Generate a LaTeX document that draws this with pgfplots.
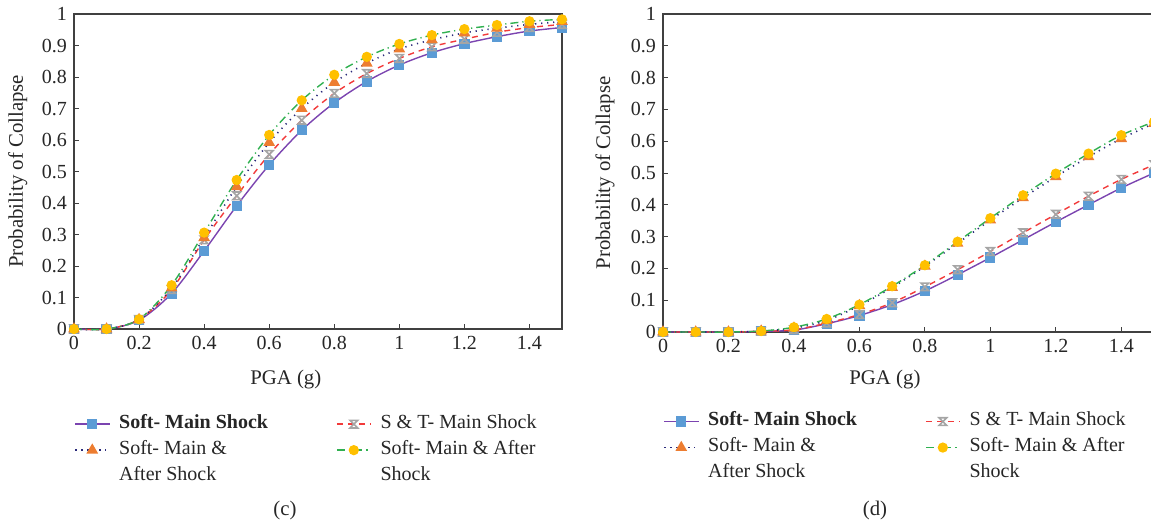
\documentclass[border=0pt]{standalone}
\usepackage{fontspec}
\setmainfont{Liberation Serif}
\usepackage{pgfplots}
\usepackage{pgfplotstable}
\pgfplotsset{compat=1.18}

\definecolor{cPur}{HTML}{7B44B0}
\definecolor{cBlu}{HTML}{5B9BD5}
\definecolor{cRed}{HTML}{F23A3A}
\definecolor{cGry}{HTML}{A5A5A5}
\definecolor{cNav}{HTML}{2A2A7A}
\definecolor{cOra}{HTML}{ED7D31}
\definecolor{cGrn}{HTML}{30B050}
\definecolor{cYel}{HTML}{FFC000}
\definecolor{cAx}{HTML}{404040}

% hourglass-like cross used for the S & T series
\pgfdeclareplotmark{hglass}{%
  \pgfpathmoveto{\pgfqpoint{-\pgfplotmarksize}{-\pgfplotmarksize}}%
  \pgfpathlineto{\pgfqpoint{\pgfplotmarksize}{\pgfplotmarksize}}%
  \pgfpathlineto{\pgfqpoint{-\pgfplotmarksize}{\pgfplotmarksize}}%
  \pgfpathlineto{\pgfqpoint{\pgfplotmarksize}{-\pgfplotmarksize}}%
  \pgfpathclose
  \pgfusepathqstroke}

% panel (c)
\pgfplotstableread{
x    sm     st     sma    smb
0    0      0      0      0
0.1  0      0      0      0
0.2  0.028  0.030  0.030  0.031
0.3  0.113  0.125  0.130  0.139
0.4  0.248  0.283  0.290  0.306
0.5  0.391  0.423  0.452  0.473
0.6  0.521  0.554  0.592  0.616
0.7  0.631  0.663  0.700  0.726
0.8  0.718  0.748  0.783  0.807
0.9  0.786  0.811  0.844  0.864
1.0  0.838  0.859  0.889  0.905
1.1  0.877  0.896  0.918  0.933
1.2  0.906  0.920  0.940  0.952
1.3  0.928  0.942  0.955  0.965
1.4  0.946  0.957  0.967  0.977
1.5  0.957  0.967  0.976  0.983
}\datac

% panel (d)
\pgfplotstableread{
x    sm     st     sma    smb
0    0      0      0      0
0.1  0      0      0      0
0.2  0      0      0      0
0.3  0.002  0.002  0.003  0.003
0.4  0.006  0.007  0.012  0.015
0.5  0.026  0.028  0.036  0.041
0.6  0.052  0.055  0.083  0.086
0.7  0.086  0.092  0.140  0.144
0.8  0.129  0.142  0.207  0.210
0.9  0.180  0.196  0.279  0.284
1.0  0.234  0.253  0.352  0.358
1.1  0.290  0.312  0.422  0.430
1.2  0.346  0.370  0.488  0.498
1.3  0.400  0.427  0.551  0.561
1.4  0.453  0.480  0.608  0.619
1.5  0.500  0.526  0.656  0.661
}\datad

\pgfplotsset{
  fragility/.style={
    scale only axis, clip=false,
    xmin=0, xmax=1.5, ymin=0, ymax=1,
    xtick={0,0.2,0.4,0.6,0.8,1,1.2,1.4},
    ytick={0,0.1,0.2,0.3,0.4,0.5,0.6,0.7,0.8,0.9,1},
    tick align=inside, xtick pos=bottom, ytick pos=left,
    major tick length=2.5pt,
    axis line style={draw=cAx, line width=0.6pt},
    tick style={draw=cAx, line width=0.5pt},
    /pgf/number format/assume math mode=true,
    tick label style={font=\fontsize{10}{12}\selectfont, text=black!85},
    label style={font=\fontsize{10.4}{12}\selectfont, text=black!85},
    ylabel={Probability of Collapse},
    xlabel={PGA (g)},
    legend columns=2,
    legend cell align=left,
    legend style={draw=none, fill=none, inner sep=0pt, anchor=north west,
      font=\fontsize{10}{12}\selectfont, text=black!85,
      /tikz/every even column/.append style={column sep=29.5pt},
      nodes={inner xsep=4.5pt, inner ysep=1pt, text height=7.6pt, text depth=3.4pt}},
  },
  sSM/.style={cPur, line width=0.7pt, smooth, mark=square*, mark size=2.2pt,
    mark options={solid, draw=cBlu, fill=cBlu}},
  sST/.style={cRed, line width=0.7pt, smooth, dash pattern=on 3pt off 2.5pt,
    mark=hglass, mark size=1.9pt, mark options={solid, draw=cGry, line width=0.8pt}},
  sSMA/.style={cNav, line width=0.8pt, smooth, dash pattern=on 0.6pt off 2.4pt,
    mark=triangle*, mark size=2.6pt, mark options={solid, draw=cOra, fill=cOra}},
  sSMB/.style={cGrn, line width=0.7pt, smooth, dash pattern=on 4pt off 2pt on 0.6pt off 2pt,
    mark=*, mark size=2.2pt, mark options={solid, draw=cYel, fill=cYel}},
}

\begin{document}
\begin{tikzpicture}
\begin{axis}[fragility, at={(37pt,99pt)}, anchor=south west,
  width=244pt, height=157.5pt,
  xlabel style={at={(axis description cs:0.434,-0.159)}, anchor=center},
  ylabel style={at={(axis description cs:-0.115,0.5)}, anchor=center},
  legend style={at={(axis description cs:0.0,-0.2595)}}]
  \addplot[sSM] table[x=x, y=sm] {\datac};
  \addlegendentry{\textbf{Soft- Main Shock}}
  \addplot[sST] table[x=x, y=st] {\datac};
  \addlegendentry{S \& T- Main Shock}
  \addplot[sSMA] table[x=x, y=sma] {\datac};
  \addlegendentry{Soft- Main \&}
  \addplot[sSMB] table[x=x, y=smb] {\datac};
  \addlegendentry{Soft- Main \& After}
  \addlegendimage{empty legend}
  \addlegendentry{After Shock}
  \addlegendimage{empty legend}
  \addlegendentry{Shock}
\end{axis}

\begin{axis}[fragility, at={(331.5pt,97.5pt)}, anchor=south west,
  width=245.5pt, height=159pt,
  xlabel style={at={(axis description cs:0.452,-0.149)}, anchor=center},
  ylabel style={at={(axis description cs:-0.118,0.5)}, anchor=center},
  legend style={at={(axis description cs:0.0,-0.2395)}}]
  \addplot[sSM] table[x=x, y=sm] {\datad};
  \addlegendentry{\textbf{Soft- Main Shock}}
  \addplot[sST] table[x=x, y=st] {\datad};
  \addlegendentry{S \& T- Main Shock}
  \addplot[sSMA] table[x=x, y=sma] {\datad};
  \addlegendentry{Soft- Main \&}
  \addplot[sSMB] table[x=x, y=smb] {\datad};
  \addlegendentry{Soft- Main \& After}
  \addlegendimage{empty legend}
  \addlegendentry{After Shock}
  \addlegendimage{empty legend}
  \addlegendentry{Shock}
\end{axis}

\node[font=\fontsize{10.4}{12}\selectfont, text=black!85] at (142.5pt,8.5pt) {(c)};
\node[font=\fontsize{10.4}{12}\selectfont, text=black!85] at (437.5pt,8.5pt) {(d)};

\pgfresetboundingbox
\path[use as bounding box] (0,0) rectangle (575.5pt,263.5pt);
\end{tikzpicture}
\end{document}
